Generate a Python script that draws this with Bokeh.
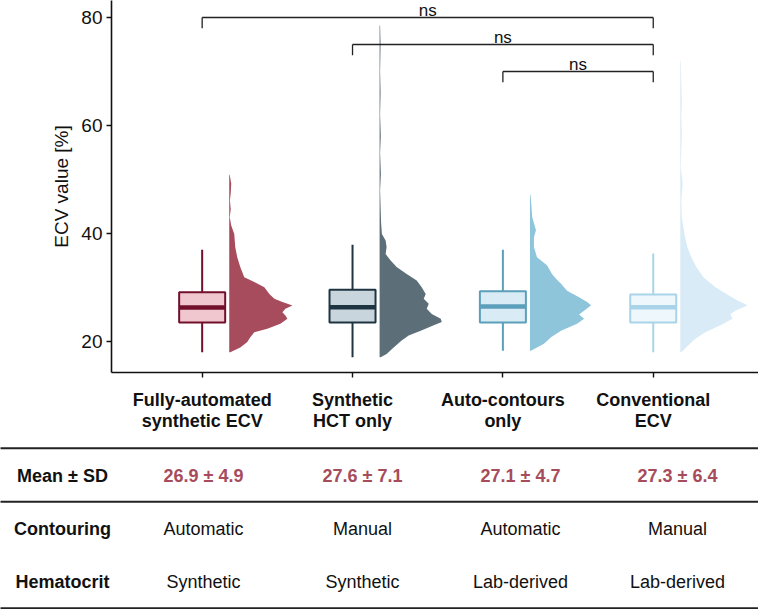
import numpy as np
from bokeh.plotting import figure
from bokeh.models import Range1d, FixedTicker
from bokeh.embed import file_html
from bokeh.resources import INLINE
from bokeh.core.properties import value

# ---------------- data ----------------
tick_labels = ["Fully-automated\nsynthetic ECV", "Synthetic\nHCT only",
               "Auto-contours\nonly", "Conventional\nECV"]

whisker_lo = [18.0, 17.1, 18.3, 18.0]
q1 = [23.5, 23.5, 23.5, 23.5]
median = [26.3, 26.35, 26.5, 26.35]
q3 = [29.1, 29.6, 29.3, 28.7]
whisker_hi = [37.0, 37.9, 37.0, 36.3]

# half-violin density profiles (ECV value, relative density)
v1_y = [18.0, 18.9, 19.9, 20.8, 21.7, 22.35, 23.3, 24.2, 24.8, 25.4, 26.05, 26.67, 27.3,
        27.9, 28.8, 30.06, 31.0, 31.9, 33.8, 35.6, 37.5, 39.9, 41.5, 43.0, 44.5, 46.1,
        47.5, 49.2, 50.9]
v1_d = [0.01, 0.11, 0.18, 0.21, 0.25, 0.38, 0.51, 0.58, 0.56, 0.53, 0.56, 0.63, 0.53,
        0.45, 0.40, 0.35, 0.25, 0.15, 0.11, 0.08, 0.06, 0.05, 0.02, 0.005, 0.015, 0.007,
        0.015, 0.02, 0.005]

v2_y = [17.1, 17.7, 18.9, 20.2, 21.1, 22.0, 23.0, 23.6, 24.2, 25.1, 26.05, 27.0, 27.9,
        28.8, 30.06, 31.3, 32.5, 33.8, 35.0, 36.2, 37.5, 38.7, 39.9, 42.0, 45.0, 48.0,
        51.0, 55.0, 58.0, 62.0, 66.0, 70.0, 75.0, 78.5]
v2_d = [0.01, 0.07, 0.14, 0.22, 0.29, 0.41, 0.54, 0.62, 0.61, 0.52, 0.47, 0.49, 0.44,
        0.46, 0.42, 0.37, 0.27, 0.17, 0.11, 0.06, 0.07, 0.06, 0.023, 0.015, 0.01, 0.005,
        0.013, 0.005, 0.012, 0.005, 0.01, 0.005, 0.01, 0.005]

v3_y = [18.3, 19.6, 20.8, 22.0, 23.3, 24.2, 25.0, 25.7, 26.7, 27.3, 28.2, 29.4, 30.7,
        31.6, 32.5, 34.1, 35.6, 37.5, 39.3, 40.6, 43.0, 45.5, 47.2]
v3_d = [0.01, 0.14, 0.21, 0.31, 0.47, 0.54, 0.49, 0.54, 0.61, 0.57, 0.49, 0.37, 0.31,
        0.26, 0.22, 0.17, 0.07, 0.04, 0.04, 0.06, 0.023, 0.013, 0.005]

v4_y = [18.0, 19.3, 20.5, 21.7, 23.0, 24.2, 25.1, 25.7, 26.7, 27.6, 28.8, 30.06, 31.9,
        33.8, 35.6, 37.5, 39.9, 41.2, 43.0, 46.1, 49.2, 52.3, 55.4, 58.5, 61.5, 64.6,
        67.7, 72.0]
v4_d = [0.01, 0.08, 0.15, 0.25, 0.40, 0.52, 0.50, 0.55, 0.67, 0.57, 0.46, 0.35, 0.23,
        0.16, 0.11, 0.07, 0.04, 0.03, 0.015, 0.01, 0.023, 0.005, 0.01, 0.015, 0.01, 0.015,
        0.01, 0.005]

violin_y = [v1_y, v2_y, v3_y, v4_y]
violin_d = [v1_d, v2_d, v3_d, v4_d]

# significance brackets: (group a, group b, height, label)
bracket_a = [1, 2, 3]
bracket_b = [4, 4, 4]
bracket_y = [80, 75, 70]
bracket_lab = ["ns", "ns", "ns"]

# table
row_labels = ["Mean ± SD", "Contouring", "Hematocrit"]
mean_sd = ["26.9 ± 4.9", "27.6 ± 7.1", "27.1 ± 4.7", "27.3 ± 6.4"]
contouring = ["Automatic", "Manual", "Automatic", "Manual"]
hematocrit = ["Synthetic", "Synthetic", "Lab-derived", "Lab-derived"]

# ---------------- styles ----------------
outline_cols = ["#72102b", "#1f3441", "#5b9fba", "#a8d3e8"]
box_fill = ["#f0c7cf", "#c9d5dc", "#d9ecf5", "#eef7fc"]
violin_cols = ["#a64c5c", "#5c6e78", "#8fc5db", "#d8ebf7"]
accent = "#a64c5c"
ink = "#111111"
FONT = "Liberation Sans"

BOX_HW = 0.153
VIOLIN_OFF = 0.18
VIOLIN_SCALE = 0.667

W, H = 758, 609
FRAME_L, FRAME_B = 111, 372

# ---------------- main plot ----------------
p = figure(width=W, height=H, x_range=Range1d(0.397, 4.70),
           y_range=Range1d(14.259, 83.148), output_backend="svg",
           toolbar_location=None, min_border_left=FRAME_L, min_border_right=0,
           min_border_top=0, min_border_bottom=H - FRAME_B)
p.outline_line_color = None
p.xgrid.visible = False
p.ygrid.visible = False
p.background_fill_color = "white"
p.border_fill_color = "white"
# pixel-like coordinate system for the table under the axis
p.extra_x_ranges = {"tbl": Range1d(FRAME_L, W)}
p.extra_y_ranges = {"tbl": Range1d(FRAME_B, 0)}

xs = np.arange(1, 5)

# violins
for i in range(4):
    ys = np.array(violin_y[i])
    ds = np.array(violin_d[i])
    base = xs[i] + VIOLIN_OFF
    p.harea(y=ys, x1=np.full(len(ys), base), x2=base + ds * VIOLIN_SCALE,
            fill_color=violin_cols[i], fill_alpha=1.0)

# whiskers
p.segment(x0=xs, y0=whisker_lo, x1=xs, y1=q1, line_color=outline_cols, line_width=2)
p.segment(x0=xs, y0=q3, x1=xs, y1=whisker_hi, line_color=outline_cols, line_width=2)
# boxes
p.quad(left=xs - BOX_HW, right=xs + BOX_HW, bottom=q1, top=q3,
       fill_color=box_fill, line_color=outline_cols, line_width=2)
# medians
p.segment(x0=xs - BOX_HW, y0=median, x1=xs + BOX_HW, y1=median,
          line_color=outline_cols, line_width=4.5)

# brackets
ba = np.array(bracket_a, dtype=float)
bb = np.array(bracket_b, dtype=float)
by = np.array(bracket_y, dtype=float)
p.segment(x0=ba, y0=by, x1=bb, y1=by, line_color="#222222", line_width=1.3)
p.segment(x0=ba, y0=by, x1=ba, y1=by - 2, line_color="#222222", line_width=1.3)
p.segment(x0=bb, y0=by, x1=bb, y1=by - 2, line_color="#222222", line_width=1.3)
p.text(x=(ba + bb) / 2, y=by, text=bracket_lab, text_font=value(FONT),
       text_font_size=value("17px"), text_align="center", text_baseline="alphabetic",
       y_offset=-7.3, text_color=ink)

# axes
p.yaxis.ticker = FixedTicker(ticks=[20, 40, 60, 80])
p.yaxis.axis_label = "ECV value [%]"
p.yaxis.axis_label_text_font = FONT
p.yaxis.axis_label_text_font_size = "19px"
p.yaxis.axis_label_text_font_style = "normal"
p.yaxis.axis_label_text_color = ink
p.yaxis.axis_label_standoff = 6
p.yaxis.major_label_text_font = FONT
p.yaxis.major_label_text_font_size = "19px"
p.yaxis.major_label_text_color = ink
p.yaxis.major_label_standoff = 4

p.xaxis.ticker = FixedTicker(ticks=list(xs))
p.xaxis.major_label_overrides = {int(k): lab for k, lab in zip(xs, tick_labels)}
p.xaxis.major_label_text_font = FONT
p.xaxis.major_label_text_font_size = "18px"
p.xaxis.major_label_text_font_style = "bold"
p.xaxis.major_label_text_color = ink
p.xaxis.major_label_text_line_height = 1.05
p.xaxis.major_label_standoff = 12

for ax in (p.xaxis, p.yaxis):
    ax.axis_line_color = ink
    ax.axis_line_width = 1.6
    ax.major_tick_line_color = ink
    ax.major_tick_line_width = 1.4
    ax.major_tick_out = 5
    ax.major_tick_in = 0
    ax.minor_tick_out = 0
    ax.minor_tick_in = 0

# ---------------- table (drawn below the axis, unclipped) ----------------
col_x = [203, 362, 520, 677]
row_y = [475, 528, 581.7]
line_y = [447.7, 501.3, 607.7]
label_x = 62

tbl = dict(x_range_name="tbl", y_range_name="tbl")
renderers = []
renderers.append(p.segment(x0=[0] * 3, y0=line_y, x1=[W] * 3, y1=line_y,
                           line_color="#222222", line_width=2, **tbl))
renderers.append(p.text(x=[label_x] * 3, y=row_y, text=row_labels, text_font=value(FONT),
                        text_font_size=value("18px"), text_font_style="bold",
                        text_align="center", text_baseline="middle", text_color=ink, **tbl))
renderers.append(p.text(x=col_x, y=[row_y[0]] * 4, text=mean_sd, text_font=value(FONT),
                        text_font_size=value("18px"), text_font_style="bold",
                        text_align="center", text_baseline="middle", text_color=accent, **tbl))
renderers.append(p.text(x=col_x, y=[row_y[1]] * 4, text=contouring, text_font=value(FONT),
                        text_font_size=value("18px"), text_align="center",
                        text_baseline="middle", text_color=ink, **tbl))
renderers.append(p.text(x=col_x, y=[row_y[2]] * 4, text=hematocrit, text_font=value(FONT),
                        text_font_size=value("18px"), text_align="center",
                        text_baseline="middle", text_color=ink, **tbl))
for r in renderers:
    r.level = "overlay"

open("out.html", "w").write(file_html(p, INLINE))
